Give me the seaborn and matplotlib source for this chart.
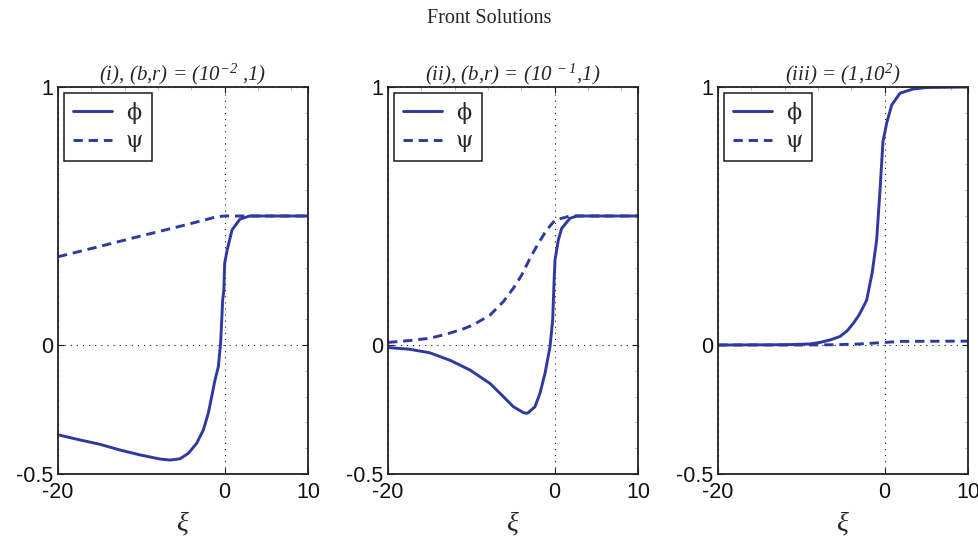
import numpy as np
import pandas as pd
import matplotlib
matplotlib.use("Agg")
import matplotlib.pyplot as plt
import seaborn as sns
from matplotlib.ticker import AutoMinorLocator

sns.set_theme(style="white")
plt.rcParams['font.family'] = ['Liberation Sans', 'DejaVu Sans']
plt.rcParams['mathtext.fontset'] = 'custom'
plt.rcParams['mathtext.rm'] = 'Liberation Serif:italic'
plt.rcParams['mathtext.it'] = 'Liberation Serif:italic'

# ---------------- data ----------------
titles = ["(i), (b,r) = (10$^{-2}$ ,1)",
          "(ii), (b,r) = (10$^{\\ -1}$,1)",
          "(iii) = (1,10$^{2}$)"]

xi_phi1 = [-20, -17.5, -14.96, -12.56, -10.16, -7.76, -6.56, -5.36, -4.36, -3.36, -2.56, -1.96, -1.56, -1.16,
           -0.76, -0.48, -0.24, -0.1, 0, 0.3, 0.88, 1.84, 3.0, 10]
phi1 = [-0.348, -0.367, -0.385, -0.407, -0.426, -0.442, -0.446, -0.441, -0.42, -0.381, -0.329, -0.264, -0.2,
        -0.136, -0.084, 0.01, 0.174, 0.213, 0.317, 0.368, 0.446, 0.488, 0.5, 0.5]
xi_psi1 = [-20, -15, -10, -5, -2, -1, 0, 10]
psi1 = [0.342, 0.382, 0.423, 0.463, 0.488, 0.497, 0.5, 0.5]

xi_phi2 = [-20, -17.5, -15, -12.5, -10.16, -7.76, -6.16, -4.96, -3.76, -3.4, -3.16, -2.36, -1.76, -1.16, -0.56,
           -0.24, -0.08, 0.04, 0.44, 0.84, 1.84, 2.64, 10]
phi2 = [-0.01, -0.016, -0.03, -0.06, -0.097, -0.149, -0.2, -0.239, -0.262, -0.265, -0.262, -0.239, -0.187, -0.11,
        -0.007, 0.097, 0.239, 0.33, 0.407, 0.452, 0.491, 0.5, 0.5]
xi_psi2 = [-20, -17.5, -15, -13, -11, -9.76, -7.76, -6.16, -4.96, -3.96, -2.96, -1.96, -0.96, 0.04, 1.84, 10]
psi2 = [0.01, 0.017, 0.026, 0.042, 0.062, 0.078, 0.116, 0.168, 0.22, 0.271, 0.336, 0.394, 0.446, 0.484, 0.5, 0.5]

xi_phi3 = [-20, -12, -9, -7.76, -6.5, -5.36, -4.5, -3.76, -3.1, -2.56, -2.16, -1.5, -0.96, -0.56, -0.2, 0,
           0.24, 0.84, 1.84, 3.4, 5, 10]
phi3 = [0, 0.001, 0.004, 0.01, 0.02, 0.033, 0.055, 0.084, 0.115, 0.148, 0.174, 0.28, 0.407, 0.6, 0.79, 0.82,
        0.86, 0.93, 0.976, 0.992, 0.998, 1.0]
xi_psi3 = [-20, -10, -6, -3, 0, 2, 10]
psi3 = [0, 0, 0.001, 0.004, 0.01, 0.014, 0.015]

panels = [(xi_phi1, phi1, xi_psi1, psi1),
          (xi_phi2, phi2, xi_psi2, psi2),
          (xi_phi3, phi3, xi_psi3, psi3)]

x_ticks = [-20, 0, 10]
y_ticks = [-0.5, 0, 1]
x_ticklabels = ['-20', '0', '10']
y_ticklabels = ['-0.5', '0', '1']

color = '#2E3A9E'

# ---------------- figure ----------------
fig = plt.figure(figsize=(9.79, 5.41), dpi=100)
lefts = [58 / 979, 388 / 979, 718 / 979]
w = 250 / 979
b = 1 - 474 / 541
h = 387 / 541

for i, (xa, ya, xb, yb) in enumerate(panels):
    ax = fig.add_axes([lefts[i], b, w, h])
    ax.set_facecolor('white')
    sns.lineplot(x=xa, y=ya, ax=ax, color=color, lw=2.1, label='ϕ', sort=False)
    sns.lineplot(x=xb, y=yb, ax=ax, color=color, lw=2.1, label='ψ', sort=False)
    ax.lines[1].set_dashes((3.2, 2.0))
    ax.set_xlim(-20, 10)
    ax.set_ylim(-0.5, 1)
    ax.set_xticks(x_ticks)
    ax.set_xticklabels(x_ticklabels)
    ax.set_yticks(y_ticks)
    ax.set_yticklabels(y_ticklabels)
    ax.xaxis.set_minor_locator(AutoMinorLocator(5))
    ax.yaxis.set_minor_locator(AutoMinorLocator(5))
    ax.tick_params(axis='both', which='major', direction='in', length=4, width=0.8, color='k',
                   labelsize=15.5, labelcolor='#111111', top=True, right=True, left=True, bottom=True)
    ax.tick_params(axis='y', which='major', pad=3.5)
    ax.tick_params(axis='x', which='major', pad=6)
    ax.tick_params(axis='both', which='minor', direction='in', length=2, width=0.5, color='#999999',
                   top=True, right=True, left=False, bottom=False)
    ax.grid(True, which='major', linestyle=(0, (1, 4.5)), color='k', lw=0.8)
    for s in ax.spines.values():
        s.set_visible(True)
        s.set_color('#222222')
        s.set_linewidth(1.3)
    ax.set_xlabel(r'$\xi$', fontsize=20, labelpad=5)
    ax.set_ylabel('')
    ax.set_title(titles[i], fontsize=15, pad=5, family=['Liberation Serif'], style='italic')
    leg = ax.legend(loc='upper left', fontsize=16, frameon=True, fancybox=False, edgecolor='k',
                    framealpha=1, handlelength=1.75, borderaxespad=0.28, borderpad=0.38,
                    labelspacing=0.3, handletextpad=0.65)
    leg.get_frame().set_linewidth(1.1)
    for t in leg.get_texts():
        t.set_fontfamily(['DejaVu Serif'])

fig.text(0.5, 0.965, 'Front Solutions', ha='center', va='center', fontsize=14.5,
         family=['Liberation Serif'])

fig.savefig('out.png', dpi=100, facecolor='white')
